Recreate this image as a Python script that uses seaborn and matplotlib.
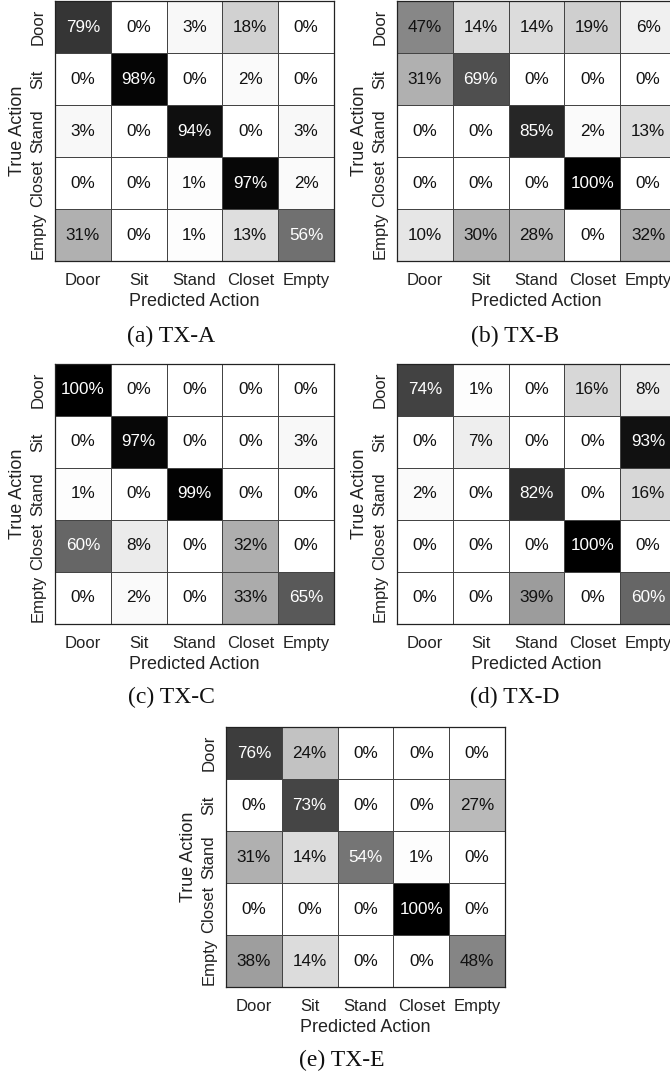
import numpy as np
import matplotlib
matplotlib.use('Agg')
import matplotlib.pyplot as plt
import seaborn as sns

sns.set_style('white')
plt.rcParams['font.family'] = ['Liberation Sans', 'DejaVu Sans']

actions = ['Door', 'Sit', 'Stand', 'Closet', 'Empty']

tx_a = [[79, 0, 3, 18, 0],
        [0, 98, 0, 2, 0],
        [3, 0, 94, 0, 3],
        [0, 0, 1, 97, 2],
        [31, 0, 1, 13, 56]]
tx_b = [[47, 14, 14, 19, 6],
        [31, 69, 0, 0, 0],
        [0, 0, 85, 2, 13],
        [0, 0, 0, 100, 0],
        [10, 30, 28, 0, 32]]
tx_c = [[100, 0, 0, 0, 0],
        [0, 97, 0, 0, 3],
        [1, 0, 99, 0, 0],
        [60, 8, 0, 32, 0],
        [0, 2, 0, 33, 65]]
tx_d = [[74, 1, 0, 16, 8],
        [0, 7, 0, 0, 93],
        [2, 0, 82, 0, 16],
        [0, 0, 0, 100, 0],
        [0, 0, 39, 0, 60]]
tx_e = [[76, 24, 0, 0, 0],
        [0, 73, 0, 0, 27],
        [31, 14, 54, 1, 0],
        [0, 0, 0, 100, 0],
        [38, 14, 0, 0, 48]]

captions = ['(a) TX-A', '(b) TX-B', '(c) TX-C', '(d) TX-D', '(e) TX-E']

W, H = 670, 1076
# panel boxes in pixels: left, top; caption centre x, y
panels = [
    (tx_a, 55, 1, 171, 336),
    (tx_b, 397, 1, 515, 336),
    (tx_c, 55, 364, 171, 697),
    (tx_d, 397, 364, 515, 697),
    (tx_e, 226, 727, 342, 1060),
]
CW, CH = 279, 260


def draw_matrix(ax, values):
    vals = np.array(values)
    annot = np.array([[f'{v}%' for v in row] for row in values])
    sns.heatmap(vals, ax=ax, cmap='gray_r', vmin=0, vmax=100, cbar=False,
                annot=annot, fmt='', annot_kws={'fontsize': 12.3},
                linewidths=0.6, linecolor='#444444',
                xticklabels=actions, yticklabels=actions)
    for txt, v in zip(ax.texts, vals.flatten()):
        txt.set_color('white' if v >= 50 else '#111111')
    for sp in ax.spines.values():
        sp.set_visible(True)
        sp.set_color('#222222')
        sp.set_linewidth(0.9)
    ax.set_yticklabels(actions, rotation=90, va='center')
    ax.set_xticklabels(actions, rotation=0)
    ax.tick_params(axis='x', length=0, pad=8.5, labelsize=12, labelcolor='#222222')
    ax.tick_params(axis='y', length=0, pad=7, labelsize=12, labelcolor='#222222')
    ax.set_xlabel('Predicted Action', fontsize=13, color='#222222', labelpad=4)
    ax.set_ylabel('True Action', fontsize=13, color='#222222', labelpad=3)


def main() -> None:
    fig = plt.figure(figsize=(W / 100, H / 100), dpi=100)
    for (values, left, top, cx, cy), cap in zip(panels, captions):
        ax = fig.add_axes([left / W, 1 - (top + CH) / H, CW / W, CH / H])
        draw_matrix(ax, values)
        fig.text(cx / W, 1 - cy / H, cap, ha='center', va='center',
                 fontsize=17, family=['Liberation Serif', 'DejaVu Serif'],
                 color='#111111')
    fig.savefig('out.png', dpi=100)


if __name__ == '__main__':
    main()
